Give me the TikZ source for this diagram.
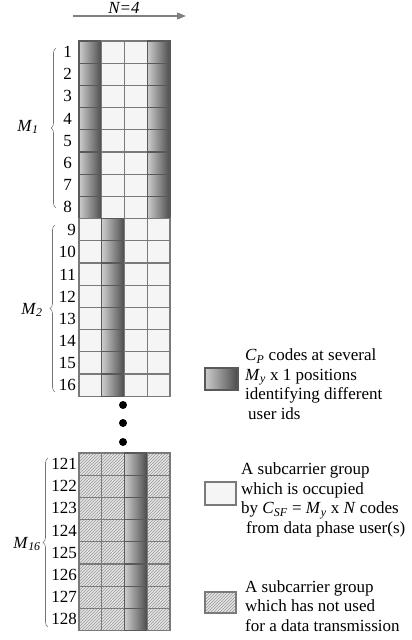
\documentclass[tikz,border=0pt]{standalone}
\usepackage{fontspec}
\setmainfont{Liberation Serif}
\usetikzlibrary{arrows.meta,patterns,decorations.pathreplacing}
\pgfdeclarehorizontalshading{codeshade}{100bp}{color(0bp)=(black!48); color(25bp)=(black!20); color(60bp)=(black!55); color(85bp)=(black!82); color(100bp)=(black!88)}
\newcommand{\msub}[2]{\textit{#1}\textsubscript{\textit{#2}}}

\begin{document}
\begin{tikzpicture}[x=1pt,y=-1pt,font=\fontsize{17}{19.5}\selectfont,
    cell/.style={draw=black!52,line width=1.1pt,fill=black!4},
    codecell/.style={draw=black!65,line width=1.1pt,shading=codeshade},
    freecell/.style={draw=black!52,line width=1.1pt,preaction={fill=black!10},pattern=north east lines,pattern color=black!40},
    grpbrace/.style={decorate,decoration={brace,amplitude=5pt},draw=black!55,line width=0.6pt},
    num/.style={anchor=east,inner sep=0pt}]
  \useasboundingbox (0,0) rectangle (412,640);

  % spreading direction
  \coordinate (ns) at (73,16);
  \coordinate (ne) at (186,16);
  \draw[black!50,line width=1.4pt,-{Triangle[length=9pt,width=7pt]}] (ns) -- (ne);
  \node[inner sep=0pt] (nlab) at (124,8) {\textit{N=4}};

  % group M1
  \foreach \r in {0,...,7}
    \foreach \c/\s in {0/codecell,1/cell,2/cell,3/codecell}
      \draw[\s] ({79+22.75*\c},{41+22.2*\r}) rectangle +(22.75,22.2);
  \foreach \n [count=\r from 0] in {1,...,8}
    \node[num] (r\n) at (72,{52+22.2*\r}) {\n};
  \draw[grpbrace] (56,208) -- (56,48);
  \node (m1) at (28,127) {\msub{M}{1}};

  % group M2
  \foreach \r in {0,...,7}
    \foreach \c/\s in {0/cell,1/codecell,2/cell,3/cell}
      \draw[\s] ({79+22.75*\c},{218.6+22.2*\r}) rectangle +(22.75,22.2);
  \foreach \n [count=\r from 0] in {9,...,16}
    \node[num] (r\n) at (76,{230+22.2*\r}) {\n};
  \draw[grpbrace] (55,392) -- (55,225);
  \node (m2) at (32,310) {\msub{M}{2}};

  % more groups
  \foreach \y in {405,423,442}
    \fill (123,\y) circle (4pt);

  % group M16
  \foreach \r in {0,...,7}
    \foreach \c/\s in {0/freecell,1/freecell,2/codecell,3/freecell}
      \draw[\s] ({79+22.75*\c},{453+22.2*\r}) rectangle +(22.75,22.2);
  \foreach \n [count=\r from 0] in {121,...,128}
    \node[num] (r\n) at (77,{464+22.2*\r}) {\n};
  \draw[grpbrace] (48,627) -- (48,458);
  \node (m16) at (27,544) {\msub{M}{16}};

  % legend
  \draw[codecell] (205,368) rectangle (238,390);
  \node[anchor=west,align=left,inner sep=0pt] (lcode) at (245,384)
    {\msub{C}{P} codes at several\\ \msub{M}{y} x 1 positions\\ identifying different\\ \hspace*{3pt}user ids};
  \draw[cell] (205,482) rectangle (236,505);
  \node[anchor=west,align=left,inner sep=0pt] (lused) at (241,500)
    {A subcarrier group\\ which is occupied\\ by \msub{C}{SF} = \msub{M}{y} x \textit{N} codes\\ \hspace*{5pt}from data phase user(s)};
  \draw[freecell] (205,592) rectangle (236,613);
  \node[anchor=west,align=left,inner sep=0pt] (lfree) at (245,606)
    {A subcarrier group\\ which has not used\\ for a data transmission};
\end{tikzpicture}
\end{document}
